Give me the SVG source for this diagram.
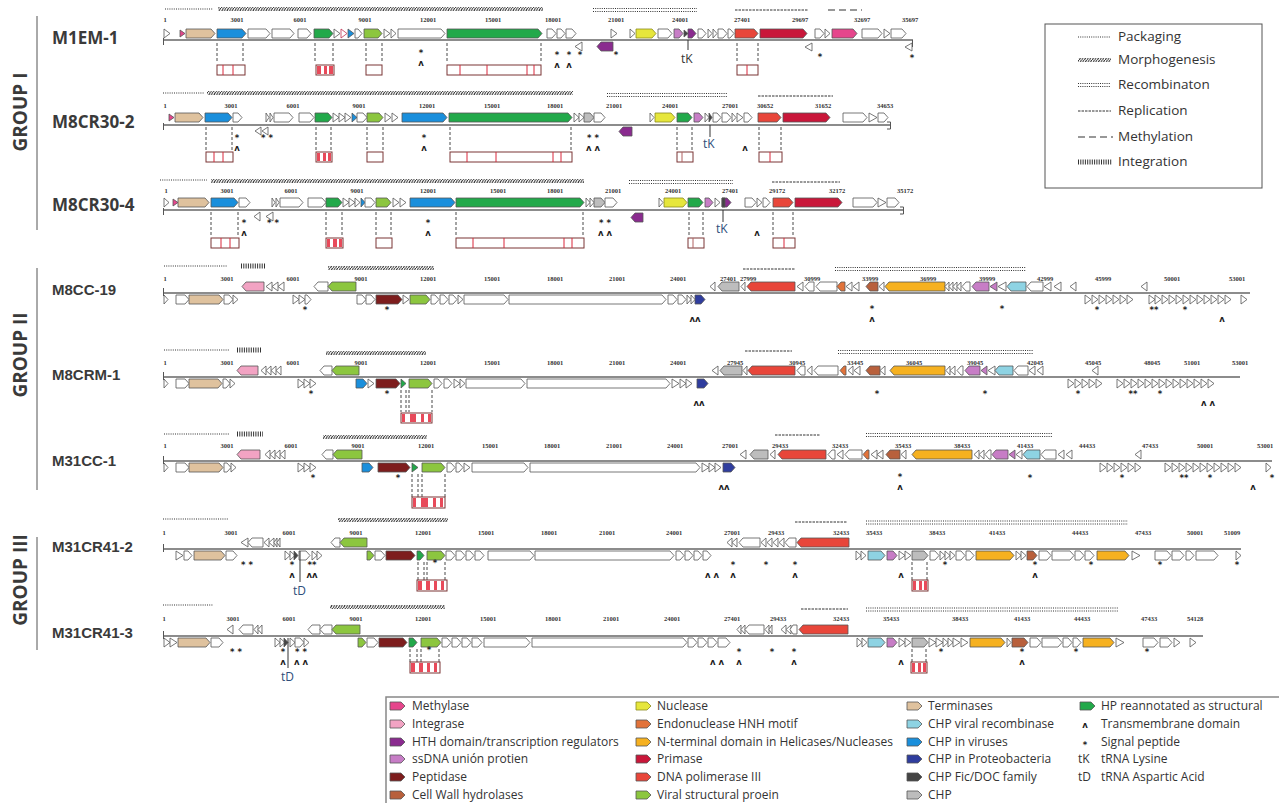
<svg xmlns="http://www.w3.org/2000/svg" width="1279" height="803" viewBox="0 0 1279 803">
<defs>
<pattern id="hatch" width="2.6" height="4" patternUnits="userSpaceOnUse"><path d="M0.3,4 L2.3,0" stroke="#222" stroke-width="1"/></pattern>
<style>
text{font-family:"Open Sans","Liberation Sans",sans-serif}
.lab{font-weight:bold;font-size:17px;fill:#3a3a3a}
.lab2{font-family:"Liberation Sans",Arial,sans-serif;font-weight:bold;font-size:15px;fill:#3a3a3a}
.grp{font-weight:bold;font-size:19px;fill:#3a3a3a;text-anchor:middle}
.c{font-family:"Liberation Serif",serif;font-weight:bold;font-size:6.5px;fill:#333;text-anchor:middle}
.m{font-family:"DejaVu Sans",sans-serif;font-weight:bold;font-size:8.5px;fill:#222;text-anchor:middle}
.t{font-size:12px;fill:#2e4d7a}
.lg{font-size:12px;fill:#333}
.lt{font-size:13.5px;fill:#333}
polygon{stroke:#555;stroke-width:0.8;fill:#fff}
.bb{stroke:#8c8c8c;stroke-width:2;fill:none}
.tk{stroke:#555;stroke-width:1;fill:none}
.pk{stroke:#333;stroke-width:1.1;stroke-dasharray:1 1.2;fill:none}
.rp{stroke:#333;stroke-width:1;stroke-dasharray:2.5 1;fill:none}
.me{stroke:#333;stroke-width:1.2;stroke-dasharray:7 4;fill:none}
.ig{stroke:#333;stroke-width:5;stroke-dasharray:1 1.3;fill:none}
.dl{stroke:#333;stroke-width:0.9;stroke-dasharray:3 2;fill:none}
.bx{fill:#fff;stroke:#7a3535;stroke-width:1}
.rl{stroke:#d9263a;stroke-width:1}
.rf{fill:#e84a5a;stroke:none}
.met{fill:#e6468c}.int{fill:#f2a3c3}.hth{fill:#8a2b8f}.ssd{fill:#c77dc6}.pep{fill:#7d1d1d}.cwh{fill:#b8603c}
.yel{fill:#e6e63c;stroke:#8a8a20}.hnh{fill:#e2733a}.hel{fill:#f6b120}.pri{fill:#c9173a}.pol{fill:#e8463a}.vsg{fill:#8cc63f}
.tan{fill:#dfc29e}.rec{fill:#8ed3e3}.blu{fill:#1a8fdc}.prot{fill:#2f3d9e}.fic{fill:#444}.chp{fill:#bdbdbd}.hpg{fill:#22a94a}
</style>
</defs>
<rect width="1279" height="803" fill="#fff"/>

<g id="group-labels">
<text class="grp" transform="translate(27,112) rotate(-90)">GROUP I</text>
<text class="grp" transform="translate(27,355) rotate(-90)">GROUP II</text>
<text class="grp" transform="translate(27,580) rotate(-90)">GROUP III</text>
<path d="M37,16 V230 M37,268 V490 M37,537 V650" stroke="#555" stroke-width="1"/>
</g>

<!-- ROW 1 -->
<g id="row-M1EM-1">
<text class="lab" x="52" y="44">M1EM-1</text>
<path class="pk" d="M165,9 H213"/><rect x="218" y="7" width="325" height="4" fill="url(#hatch)"/>
<path class="pk" d="M593,8.5 H697 M593,11.5 H697"/><path class="rp" d="M735,10 H808"/><path class="me" d="M828,10 H862"/>
<text class="c" x="165" y="22">1</text><text class="c" x="237" y="22">3001</text><text class="c" x="300" y="22">6001</text><text class="c" x="365" y="22">9001</text><text class="c" x="428" y="22">12001</text><text class="c" x="493" y="22">15001</text><text class="c" x="553" y="22">18001</text><text class="c" x="616" y="22">21001</text><text class="c" x="680" y="22">24001</text><text class="c" x="742" y="22">27401</text><text class="c" x="800" y="22">29697</text><text class="c" x="862" y="22">32697</text><text class="c" x="910" y="22">35697</text>
<path class="bb" d="M163,40 H913"/><path class="tk" d="M163.5,38 V45 M912.5,40 V47"/>
<polygon points="164,29 170,33.5 164,38"/>
<polygon class="met" points="180,30 185,33.5 180,37"/>
<polygon class="tan" points="186,29 211,29 215,33.5 211,38 186,38"/>
<polygon class="blu" points="217,29 242,29 246,33.5 242,38 217,38"/>
<polygon points="248,29 266,29 270,33.5 266,38 248,38"/>
<polygon points="272,29 290,29 294,33.5 290,38 272,38"/>
<polygon points="298,29 307,29 311,33.5 307,38 298,38"/>
<polygon class="hpg" points="314,29 329,29 333,33.5 329,38 314,38"/>
<polygon points="334,29 340,33.5 334,38"/>
<polygon points="341,29 347,33.5 341,38" style="stroke:#c03050"/>
<polygon class="blu" points="348,29 354,33.5 348,38"/>
<polygon points="355,29 358,29 362,33.5 358,38 355,38"/>
<polygon class="vsg" points="364,29 378,29 382,33.5 378,38 364,38"/>
<polygon points="384,29 390,33.5 384,38"/>
<polygon points="391,29 396,33.5 391,38"/>
<polygon points="398,29 441,29 445,33.5 441,38 398,38"/>
<polygon class="hpg" points="447,29 538,29 542,33.5 538,38 447,38"/>
<polygon points="547,29 552,29 556,33.5 552,38 547,38"/>
<polygon points="557,29 561,29 565,33.5 561,38 557,38"/>
<polygon points="566,29 572,29 576,33.5 572,38 566,38"/>
<polygon points="611,29 617,33.5 611,38"/>
<polygon points="630,29 635,33.5 630,38"/>
<polygon class="yel" points="636,29 652,29 656,33.5 652,38 636,38"/>
<polygon points="658,29 668,29 672,33.5 668,38 658,38"/>
<polygon class="ssd" points="674,29 679,29 683,33.5 679,38 674,38"/>
<polygon class="fic" points="684,30 688,33.5 684,37"/>
<polygon class="hth" points="688,29 692,29 696,33.5 692,38 688,38"/>
<polygon points="698,29 702,29 706,33.5 702,38 698,38"/>
<polygon points="708,29 712,33.5 708,38"/>
<polygon points="713,29 717,33.5 713,38"/>
<polygon points="718,29 723,29 727,33.5 723,38 718,38"/>
<polygon points="728,29 730,29 734,33.5 730,38 728,38"/>
<polygon class="pol" points="735,29 754,29 758,33.5 754,38 735,38"/>
<polygon class="pri" points="760,29 803,29 807,33.5 803,38 760,38"/>
<polygon points="815,29 820,29 824,33.5 820,38 815,38"/>
<polygon points="825,29 830,33.5 825,38"/>
<polygon class="met" points="832,29 853,29 857,33.5 853,38 832,38"/>
<polygon points="862,29 878,29 882,33.5 878,38 862,38"/>
<polygon points="884,29 890,33.5 884,38"/>
<polygon points="891,29 902,29 906,33.5 902,38 891,38"/>
<polygon points="582,42 575,46.5 582,51"/>
<polygon class="hth" points="613,42 601,42 597,46.5 601,51 613,51"/>
<polygon points="812,43 805,47 812,51"/>
<polygon points="912,43 905,47 912,51"/>
<text class="m" x="421" y="56">*</text><text class="m" x="421" y="66">ʌ</text>
<text class="m" x="557" y="58">*</text><text class="m" x="557" y="68">ʌ</text>
<text class="m" x="569" y="58">*</text><text class="m" x="569" y="68">ʌ</text>
<text class="m" x="580" y="58">*</text><text class="m" x="616" y="58">*</text><text class="m" x="820" y="60">*</text><text class="m" x="912" y="61">*</text>
<path d="M688,40 V50" stroke="#333" stroke-width="1"/><text class="t" x="681" y="63" style="fill:#333">tK</text>
</g>

<!-- ROW 2 -->
<g id="row-M8CR30-2">
<text class="lab" x="52" y="128">M8CR30-2</text>
<path class="pk" d="M163,93 H204"/><rect x="207" y="91" width="366" height="4" fill="url(#hatch)"/>
<path class="pk" d="M607,93.5 H727 M607,96.5 H727"/><path class="rp" d="M758,96 H833"/>
<text class="c" x="165" y="108">1</text><text class="c" x="231" y="108">3001</text><text class="c" x="293" y="108">6001</text><text class="c" x="359" y="108">9001</text><text class="c" x="427" y="108">12001</text><text class="c" x="492" y="108">15001</text><text class="c" x="555" y="108">18001</text><text class="c" x="614" y="108">21001</text><text class="c" x="670" y="108">24001</text><text class="c" x="730" y="108">27001</text><text class="c" x="765" y="108">30652</text><text class="c" x="823" y="108">31652</text><text class="c" x="885" y="108">34653</text>
<path class="bb" d="M163,125 H890"/><path class="tk" d="M163.5,123 V130 M887,122 H890.5 V129 H887"/>
<polygon class="met" points="169,114 174,117.5 169,121"/>
<polygon class="tan" points="175,113 199,113 203,117.5 199,122 175,122"/>
<polygon class="blu" points="205,113 228,113 232,117.5 228,122 205,122"/>
<polygon points="233,113 238,113 242,117.5 238,122 233,122"/>
<polygon points="266,113 269,117.5 266,122"/>
<polygon points="270,113 273,117.5 270,122"/>
<polygon points="274,113 289,113 293,117.5 289,122 274,122"/>
<polygon points="299,113 310,113 314,117.5 310,122 299,122"/>
<polygon class="hpg" points="315,113 328,113 332,117.5 328,122 315,122"/>
<polygon points="333,113 339,117.5 333,122"/>
<polygon points="339,113 345,117.5 339,122"/>
<polygon points="345,113 351,117.5 345,122"/>
<polygon class="blu" points="352,113 357,117.5 352,122"/>
<polygon points="357,113 363,113 367,117.5 363,122 357,122"/>
<polygon class="vsg" points="367,113 379,113 383,117.5 379,122 367,122"/>
<polygon points="385,113 391,117.5 385,122"/>
<polygon points="392,113 398,117.5 392,122"/>
<polygon class="blu" points="402,113 443,113 447,117.5 443,122 402,122"/>
<polygon class="hpg" points="449,113 568,113 572,117.5 568,122 449,122"/>
<polygon points="574,113 579,117.5 574,122"/>
<polygon points="579,113 584,117.5 579,122"/>
<polygon class="chp" points="584,113 590,113 594,117.5 590,122 584,122"/>
<polygon points="594,113 601,113 605,117.5 601,122 594,122"/>
<polygon points="650,113 654,117.5 650,122"/>
<polygon class="yel" points="655,113 671,113 675,117.5 671,122 655,122"/>
<polygon class="hpg" points="677,113 688,113 692,117.5 688,122 677,122"/>
<polygon class="ssd" points="694,113 699,113 703,117.5 699,122 694,122"/>
<polygon points="705,113 709,117.5 705,122"/>
<polygon class="fic" points="709,113 712,117.5 709,122"/>
<polygon points="713,113 717,113 721,117.5 717,122 713,122"/>
<polygon points="722,113 727,113 731,117.5 727,122 722,122"/>
<polygon points="732,113 736,117.5 732,122"/>
<polygon points="737,113 743,117.5 737,122"/>
<polygon points="744,113 748,113 752,117.5 748,122 744,122"/>
<polygon class="pol" points="758,113 777,113 781,117.5 777,122 758,122"/>
<polygon class="pri" points="783,113 826,113 830,117.5 826,122 783,122"/>
<polygon points="843,113 863,113 867,117.5 863,122 843,122"/>
<polygon points="869,113 877,117.5 869,122"/>
<polygon points="878,113 884,113 888,117.5 884,122 878,122"/>
<polygon points="261,127 255,131 261,135"/>
<polygon points="268,127 262,131 268,135"/>
<polygon class="hth" points="632,127 623,127 619,131.5 623,136 632,136"/>
<text class="m" x="237" y="141">*</text><text class="m" x="237" y="151">ʌ</text>
<text class="m" x="267" y="141">* *</text>
<text class="m" x="424" y="141">*</text><text class="m" x="424" y="151">ʌ</text>
<text class="m" x="593" y="141">* *</text><text class="m" x="593" y="151">ʌ ʌ</text>
<text class="m" x="745" y="151">ʌ</text>
<path d="M710,125 V137" stroke="#333" stroke-width="1"/><text class="t" x="703" y="148">tK</text>
</g>

<!-- ROW 3 -->
<g id="row-M8CR30-4">
<text class="lab" x="52" y="211">M8CR30-4</text>
<path class="pk" d="M160,180 H207"/><rect x="211" y="179" width="373" height="4" fill="url(#hatch)"/>
<path class="pk" d="M629,180.5 H733 M629,183.5 H733"/><path class="rp" d="M772,182 H840"/>
<text class="c" x="166" y="193">1</text><text class="c" x="227" y="193">3001</text><text class="c" x="291" y="193">6001</text><text class="c" x="357" y="193">9001</text><text class="c" x="428" y="193">12001</text><text class="c" x="498" y="193">15001</text><text class="c" x="555" y="193">18001</text><text class="c" x="613" y="193">21001</text><text class="c" x="673" y="193">24001</text><text class="c" x="730" y="193">27401</text><text class="c" x="777" y="193">29172</text><text class="c" x="837" y="193">32172</text><text class="c" x="905" y="193">35172</text>
<path class="bb" d="M163,210 H903"/><path class="tk" d="M163.5,208 V215 M900,207 H903.5 V214 H900"/>
<polygon points="164,198 169,202.5 164,207"/>
<polygon class="met" points="173,199 178,202.5 173,206"/>
<polygon class="tan" points="178,198 205,198 209,202.5 205,207 178,207"/>
<polygon class="blu" points="211,198 234,198 238,202.5 234,207 211,207"/>
<polygon points="239,198 246,198 250,202.5 246,207 239,207"/>
<polygon points="272,198 275,202.5 272,207"/>
<polygon points="276,198 279,202.5 276,207"/>
<polygon points="280,198 299,198 303,202.5 299,207 280,207"/>
<polygon points="308,198 322,198 326,202.5 322,207 308,207"/>
<polygon class="hpg" points="326,198 338,198 342,202.5 338,207 326,207"/>
<polygon points="343,198 349,202.5 343,207"/>
<polygon points="349,198 355,202.5 349,207"/>
<polygon points="355,198 360,202.5 355,207"/>
<polygon class="blu" points="361,198 365,202.5 361,207"/>
<polygon points="365,198 371,198 375,202.5 371,207 365,207"/>
<polygon class="vsg" points="376,198 387,198 391,202.5 387,207 376,207"/>
<polygon points="393,198 399,202.5 393,207"/>
<polygon points="400,198 406,202.5 400,207"/>
<polygon class="blu" points="410,198 451,198 455,202.5 451,207 410,207"/>
<polygon class="hpg" points="456,198 580,198 584,202.5 580,207 456,207"/>
<polygon points="586,198 590,202.5 586,207"/>
<polygon points="590,198 594,202.5 590,207"/>
<polygon class="chp" points="594,198 601,198 605,202.5 601,207 594,207"/>
<polygon points="605,198 613,198 617,202.5 613,207 605,207"/>
<polygon points="659,198 663,202.5 659,207"/>
<polygon class="yel" points="664,198 683,198 687,202.5 683,207 664,207"/>
<polygon class="hpg" points="688,198 699,198 703,202.5 699,207 688,207"/>
<polygon class="ssd" points="705,198 709,198 713,202.5 709,207 705,207"/>
<polygon points="715,198 720,202.5 715,207"/>
<polygon class="hth" points="722,198 727,198 731,202.5 727,207 722,207"/>
<polygon class="fic" points="722,198 725,198 725,207 722,207"/>
<polygon points="745,198 752,198 756,202.5 752,207 745,207"/>
<polygon points="757,198 762,202.5 757,207"/>
<polygon points="763,198 766,198 770,202.5 766,207 763,207"/>
<polygon class="pol" points="773,198 789,198 793,202.5 789,207 773,207"/>
<polygon class="pri" points="795,198 838,198 842,202.5 838,207 795,207"/>
<polygon points="853,198 873,198 877,202.5 873,207 853,207"/>
<polygon points="878,198 886,202.5 878,207"/>
<polygon points="887,198 895,198 899,202.5 895,207 887,207"/>
<polygon points="260,212 254,216.5 260,221"/>
<polygon points="273,212 266,216.5 273,221"/>
<polygon class="hth" points="643,213 635,213 631,217.5 635,222 643,222"/>
<text class="m" x="244" y="226">*</text><text class="m" x="244" y="236">ʌ</text>
<text class="m" x="273" y="226">* *</text>
<text class="m" x="428" y="226">*</text><text class="m" x="428" y="236">ʌ</text>
<text class="m" x="605" y="226">* *</text><text class="m" x="605" y="236">ʌ ʌ</text>
<text class="m" x="757" y="236">ʌ</text>
<path d="M723,210 V222" stroke="#333" stroke-width="1"/><text class="t" x="716" y="233">tK</text>
</g>

<!-- ROW 4 -->
<g id="row-M8CC-19">
<text class="lab2" x="52" y="295">M8CC-19</text>
<path class="pk" d="M164,266 H227"/><path class="ig" d="M241,266 H266"/><rect x="328" y="266" width="106" height="4" fill="url(#hatch)"/>
<path class="rp" d="M743,269 H795"/><path class="pk" d="M835,267.5 H1026 M835,270.5 H1026"/>
<text class="c" x="165" y="281">1</text><text class="c" x="227" y="281">3001</text><text class="c" x="293" y="281">6001</text><text class="c" x="361" y="281">9001</text><text class="c" x="428" y="281">12001</text><text class="c" x="492" y="281">15001</text><text class="c" x="555" y="281">18001</text><text class="c" x="617" y="281">21001</text><text class="c" x="678" y="281">24001</text><text class="c" x="728" y="281">27401</text><text class="c" x="748" y="281">27999</text><text class="c" x="812" y="281">30999</text><text class="c" x="870" y="281">33999</text><text class="c" x="928" y="281">36999</text><text class="c" x="987" y="281">39999</text><text class="c" x="1045" y="281">42999</text><text class="c" x="1103" y="281">45999</text><text class="c" x="1172" y="281">50001</text><text class="c" x="1237" y="281">53001</text>
<path class="bb" d="M163,293 H1250"/><path class="tk" d="M163.5,288 V296"/>
<polygon class="int" points="264,282 246,282 242,286.5 246,291 264,291"/>
<polygon points="272,282 266,286.5 272,291"/>
<polygon points="278,282 272,286.5 278,291"/>
<polygon points="284,282 278,286.5 284,291"/>
<polygon points="328,282 318,282 314,286.5 318,291 328,291"/>
<polygon class="vsg" points="356,282 332,282 328,286.5 332,291 356,291"/>
<polygon points="715,282 710,286.5 715,291"/>
<polygon class="chp" points="739,282 722,282 718,286.5 722,291 739,291"/>
<polygon points="745,282 741,286.5 745,291"/>
<polygon class="pol" points="795,282 751,282 747,286.5 751,291 795,291"/>
<polygon points="803,282 797,286.5 803,291"/>
<polygon points="814,282 809,282 805,286.5 809,291 814,291"/>
<polygon points="837,282 820,282 816,286.5 820,291 837,291"/>
<polygon class="hnh" points="845,282 841,282 837,286.5 841,291 845,291"/>
<polygon points="852,282 846,286.5 852,291"/>
<polygon points="859,282 853,286.5 859,291"/>
<polygon class="cwh" points="878,282 870,282 866,286.5 870,291 878,291"/>
<polygon points="884,282 879,286.5 884,291"/>
<polygon class="hel" points="945,282 889,282 885,286.5 889,291 945,291"/>
<polygon points="949,282 945,286.5 949,291"/>
<polygon points="953,282 949,286.5 953,291"/>
<polygon points="957,282 953,286.5 957,291"/>
<polygon points="961,282 957,286.5 961,291"/>
<polygon points="970,282 966,282 962,286.5 966,291 970,291"/>
<polygon class="ssd" points="989,282 976,282 972,286.5 976,291 989,291"/>
<polygon class="ssd" points="997,282 990,286.5 997,291"/>
<polygon points="1006,282 998,286.5 1006,291"/>
<polygon class="rec" points="1026,282 1011,282 1007,286.5 1011,291 1026,291"/>
<polygon points="1043,282 1031,282 1027,286.5 1031,291 1043,291"/>
<polygon points="1051,282 1044,286.5 1051,291"/>
<polygon points="1061,282 1054,286.5 1061,291"/>
<polygon points="1076,282 1070,286.5 1076,291"/>
<polygon points="1147,282 1141,286.5 1147,291"/>
<polygon points="164,295 168,299.5 164,304"/>
<polygon points="176,295 185,295 189,299.5 185,304 176,304"/>
<polygon class="tan" points="189,295 219,295 223,299.5 219,304 189,304"/>
<polygon points="224,295 229,295 233,299.5 229,304 224,304"/>
<polygon points="233,295 238,299.5 233,304"/>
<polygon points="293,295 299,299.5 293,304"/>
<polygon points="299,295 305,299.5 299,304"/>
<polygon points="305,295 307,295 311,299.5 307,304 305,304"/>
<polygon points="357,295 362,295 366,299.5 362,304 357,304"/>
<polygon points="366,295 371,295 375,299.5 371,304 366,304"/>
<polygon class="pep" points="376,295 398,295 402,299.5 398,304 376,304"/>
<polygon points="403,295 409,299.5 403,304"/>
<polygon class="vsg" points="410,295 426,295 430,299.5 426,304 410,304"/>
<polygon points="431,295 435,295 439,299.5 435,304 431,304"/>
<polygon points="440,295 444,295 448,299.5 444,304 440,304"/>
<polygon points="449,295 453,295 457,299.5 453,304 449,304"/>
<polygon points="458,295 463,299.5 458,304"/>
<polygon points="464,295 504,295 508,299.5 504,304 464,304"/>
<polygon points="509,295 662,295 666,299.5 662,304 509,304"/>
<polygon points="668,295 673,295 677,299.5 673,304 668,304"/>
<polygon points="678,295 682,295 686,299.5 682,304 678,304"/>
<polygon points="687,295 691,299.5 687,304"/>
<polygon points="691,295 695,299.5 691,304"/>
<polygon class="prot" points="695,295 701,295 705,299.5 701,304 695,304"/>
<polygon points="1085,295 1091,299.5 1085,304"/><polygon points="1092,295 1098,299.5 1092,304"/><polygon points="1099,295 1105,299.5 1099,304"/><polygon points="1106,295 1112,299.5 1106,304"/><polygon points="1113,295 1119,299.5 1113,304"/><polygon points="1120,295 1126,299.5 1120,304"/><polygon points="1127,295 1133,299.5 1127,304"/>
<polygon points="1149,295 1155,299.5 1149,304"/><polygon points="1155,295 1161,299.5 1155,304"/><polygon points="1162,295 1168,299.5 1162,304"/><polygon points="1169,295 1175,299.5 1169,304"/><polygon points="1176,295 1182,299.5 1176,304"/><polygon points="1183,295 1189,299.5 1183,304"/><polygon points="1190,295 1196,299.5 1190,304"/><polygon points="1197,295 1203,299.5 1197,304"/><polygon points="1204,295 1210,299.5 1204,304"/><polygon points="1211,295 1217,299.5 1211,304"/><polygon points="1218,295 1224,299.5 1218,304"/><polygon points="1225,295 1231,299.5 1225,304"/>
<polygon points="1241,295 1247,299.5 1241,304"/>
<text class="m" x="305" y="313">*</text><text class="m" x="387" y="313">*</text>
<text class="m" x="695" y="322">ʌʌ</text>
<text class="m" x="872" y="312">*</text><text class="m" x="872" y="322">ʌ</text>
<text class="m" x="1002" y="312">*</text><text class="m" x="1097" y="313">*</text>
<text class="m" x="1154" y="313">**</text><text class="m" x="1185" y="313">*</text>
<text class="m" x="1222" y="322">ʌ</text>
</g>

<!-- ROW 5 -->
<g id="row-M8CRM-1">
<text class="lab2" x="52" y="380">M8CRM-1</text>
<path class="pk" d="M164,350 H230"/><path class="ig" d="M237,350 H262"/><rect x="326" y="351" width="100" height="4" fill="url(#hatch)"/>
<path class="rp" d="M745,351 H792"/><path class="pk" d="M838,350.5 H1033 M838,353.5 H1033"/>
<text class="c" x="165" y="365">1</text><text class="c" x="227" y="365">3001</text><text class="c" x="293" y="365">6001</text><text class="c" x="361" y="365">9001</text><text class="c" x="428" y="365">12001</text><text class="c" x="492" y="365">15001</text><text class="c" x="555" y="365">18001</text><text class="c" x="617" y="365">21001</text><text class="c" x="678" y="365">24001</text><text class="c" x="735" y="365">27945</text><text class="c" x="797" y="365">30945</text><text class="c" x="855" y="365">33445</text><text class="c" x="914" y="365">36045</text><text class="c" x="975" y="365">39045</text><text class="c" x="1035" y="365">42045</text><text class="c" x="1093" y="365">45045</text><text class="c" x="1152" y="365">48045</text><text class="c" x="1192" y="365">51001</text><text class="c" x="1240" y="365">53001</text>
<path class="bb" d="M163,377 H1240"/><path class="tk" d="M163.5,372 V380"/>
<polygon class="int" points="258,366 241,366 237,370.5 241,375 258,375"/>
<polygon points="266,366 261,370.5 266,375"/><polygon points="271,366 266,370.5 271,375"/><polygon points="276,366 271,370.5 276,375"/><polygon points="281,366 276,370.5 281,375"/>
<polygon points="332,366 324,366 320,370.5 324,375 332,375"/>
<polygon class="vsg" points="359,366 336,366 332,370.5 336,375 359,375"/>
<polygon points="718,366 712,370.5 718,375"/>
<polygon class="chp" points="742,366 724,366 720,370.5 724,375 742,375"/>
<polygon points="747,366 743,370.5 747,375"/>
<polygon class="pol" points="795,366 752,366 748,370.5 752,375 795,375"/>
<polygon points="805,366 801,366 797,370.5 801,375 805,375"/>
<polygon points="812,366 807,370.5 812,375"/>
<polygon points="838,366 818,366 814,370.5 818,375 838,375"/>
<polygon class="hnh" points="846,366 844,366 840,370.5 844,375 846,375"/>
<polygon points="853,366 848,370.5 853,375"/><polygon points="860,366 854,370.5 860,375"/>
<polygon class="cwh" points="880,366 870,366 866,370.5 870,375 880,375"/>
<polygon points="885,366 880,370.5 885,375"/>
<polygon class="hel" points="945,366 894,366 890,370.5 894,375 945,375"/>
<polygon points="950,366 946,370.5 950,375"/><polygon points="955,366 950,370.5 955,375"/>
<polygon points="963,366 961,366 957,370.5 961,375 963,375"/>
<polygon class="ssd" points="980,366 969,366 965,370.5 969,375 980,375"/>
<polygon class="ssd" points="987,366 981,370.5 987,375"/>
<polygon points="995,366 988,370.5 995,375"/>
<polygon class="rec" points="1013,366 999,366 995,370.5 999,375 1013,375"/>
<polygon points="1028,366 1018,366 1014,370.5 1018,375 1028,375"/>
<polygon points="1035,366 1029,370.5 1035,375"/><polygon points="1043,366 1037,370.5 1043,375"/>
<polygon points="1098,366 1092,370.5 1098,375"/>
<polygon points="164,379 168,383.5 164,388"/>
<polygon points="176,379 185,379 189,383.5 185,388 176,388"/>
<polygon class="tan" points="189,379 218,379 222,383.5 218,388 189,388"/>
<polygon points="223,379 226,379 230,383.5 226,388 223,388"/>
<polygon points="230,379 235,383.5 230,388"/>
<polygon points="298,379 304,383.5 298,388"/><polygon points="304,379 310,383.5 304,388"/><polygon points="310,379 316,383.5 310,388"/>
<polygon class="blu" points="356,379 363,379 367,383.5 363,388 356,388"/>
<polygon points="368,379 374,383.5 368,388"/>
<polygon class="pep" points="376,379 396,379 400,383.5 396,388 376,388"/>
<polygon class="hpg" points="401,379 406,383.5 401,388"/>
<polygon class="vsg" points="409,379 428,379 432,383.5 428,388 409,388"/>
<polygon points="434,379 438,379 442,383.5 438,388 434,388"/>
<polygon points="444,379 448,379 452,383.5 448,388 444,388"/>
<polygon points="454,379 460,383.5 454,388"/><polygon points="460,379 465,383.5 460,388"/>
<polygon points="466,379 521,379 525,383.5 521,388 466,388"/>
<polygon points="527,379 666,379 670,383.5 666,388 527,388"/>
<polygon points="672,379 679,383.5 672,388"/><polygon points="680,379 686,383.5 680,388"/><polygon points="686,379 692,383.5 686,388"/>
<polygon class="prot" points="697,379 704,379 708,383.5 704,388 697,388"/>
<polygon points="1068,379 1074,383.5 1068,388"/><polygon points="1075,379 1081,383.5 1075,388"/><polygon points="1082,379 1088,383.5 1082,388"/><polygon points="1089,379 1095,383.5 1089,388"/><polygon points="1096,379 1102,383.5 1096,388"/>
<polygon points="1117,379 1123,383.5 1117,388"/><polygon points="1124,379 1130,383.5 1124,388"/><polygon points="1131,379 1137,383.5 1131,388"/><polygon points="1138,379 1144,383.5 1138,388"/><polygon points="1145,379 1151,383.5 1145,388"/><polygon points="1152,379 1158,383.5 1152,388"/><polygon points="1159,379 1165,383.5 1159,388"/><polygon points="1166,379 1172,383.5 1166,388"/><polygon points="1173,379 1179,383.5 1173,388"/><polygon points="1180,379 1186,383.5 1180,388"/><polygon points="1187,379 1193,383.5 1187,388"/><polygon points="1194,379 1200,383.5 1194,388"/><polygon points="1201,379 1207,383.5 1201,388"/><polygon points="1208,379 1214,383.5 1208,388"/>
<text class="m" x="311" y="397">*</text><text class="m" x="387" y="397">*</text>
<text class="m" x="699" y="406">ʌʌ</text>
<text class="m" x="877" y="397">*</text><text class="m" x="985" y="397">*</text>
<text class="m" x="1078" y="397">*</text><text class="m" x="1133" y="397">**</text><text class="m" x="1160" y="397">*</text>
<text class="m" x="1208" y="406">ʌ  ʌ</text>
</g>

<!-- ROW 6 -->
<g id="row-M31CC-1">
<text class="lab2" x="52" y="466">M31CC-1</text>
<path class="pk" d="M164,434 H230"/><path class="ig" d="M237,434 H263"/><rect x="323" y="435" width="104" height="4" fill="url(#hatch)"/>
<path class="rp" d="M775,435 H820"/><path class="pk" d="M866,433.5 H1052 M866,436.5 H1052"/>
<text class="c" x="165" y="448">1</text><text class="c" x="227" y="448">3001</text><text class="c" x="291" y="448">6001</text><text class="c" x="358" y="448">9001</text><text class="c" x="426" y="448">12001</text><text class="c" x="490" y="448">15001</text><text class="c" x="552" y="448">18001</text><text class="c" x="614" y="448">21001</text><text class="c" x="675" y="448">24001</text><text class="c" x="730" y="448">27001</text><text class="c" x="780" y="448">29433</text><text class="c" x="840" y="448">32433</text><text class="c" x="903" y="448">35433</text><text class="c" x="962" y="448">38433</text><text class="c" x="1025" y="448">41433</text><text class="c" x="1087" y="448">44433</text><text class="c" x="1150" y="448">47433</text><text class="c" x="1205" y="448">50001</text><text class="c" x="1265" y="448">53001</text>
<path class="bb" d="M163,461 H1272"/><path class="tk" d="M163.5,456 V464"/>
<polygon class="int" points="260,450 241,450 237,454.5 241,459 260,459"/>
<polygon points="270,450 265,454.5 270,459"/><polygon points="275,450 270,454.5 275,459"/><polygon points="280,450 275,454.5 280,459"/><polygon points="285,450 280,454.5 285,459"/>
<polygon points="333,450 326,450 322,454.5 326,459 333,459"/>
<polygon class="vsg" points="362,450 337,450 333,454.5 337,459 362,459"/>
<polygon points="746,450 740,454.5 746,459"/>
<polygon class="chp" points="768,450 754,450 750,454.5 754,459 768,459"/>
<polygon points="775,450 770,454.5 775,459"/>
<polygon class="pol" points="826,450 782,450 778,454.5 782,459 826,459"/>
<polygon points="835,450 832,450 828,454.5 832,459 835,459"/>
<polygon points="843,450 837,454.5 843,459"/>
<polygon points="862,450 849,450 845,454.5 849,459 862,459"/>
<polygon class="hnh" points="869,450 867,450 863,454.5 867,459 869,459"/>
<polygon points="877,450 871,454.5 877,459"/><polygon points="883,450 877,454.5 883,459"/>
<polygon class="cwh" points="900,450 890,450 886,454.5 890,459 900,459"/>
<polygon points="906,450 901,454.5 906,459"/>
<polygon class="hel" points="972,450 916,450 912,454.5 916,459 972,459"/>
<polygon points="979,450 974,454.5 979,459"/><polygon points="984,450 979,454.5 984,459"/>
<polygon points="991,450 989,450 985,454.5 989,459 991,459"/>
<polygon class="ssd" points="1008,450 996,450 992,454.5 996,459 1008,459"/>
<polygon class="ssd" points="1015,450 1009,454.5 1015,459"/>
<polygon points="1022,450 1016,454.5 1022,459"/>
<polygon class="rec" points="1040,450 1027,450 1023,454.5 1027,459 1040,459"/>
<polygon points="1056,450 1045,450 1041,454.5 1045,459 1056,459"/>
<polygon points="1064,450 1058,454.5 1064,459"/><polygon points="1072,450 1066,454.5 1072,459"/>
<polygon points="1141,450 1135,454.5 1141,459"/>
<polygon points="164,463 168,467.5 164,472"/>
<polygon points="176,463 185,463 189,467.5 185,472 176,472"/>
<polygon class="tan" points="189,463 219,463 223,467.5 219,472 189,472"/>
<polygon points="224,463 227,463 231,467.5 227,472 224,472"/>
<polygon points="231,463 236,467.5 231,472"/>
<polygon points="298,463 304,467.5 298,472"/><polygon points="304,463 310,467.5 304,472"/><polygon points="310,463 316,467.5 310,472"/>
<polygon class="blu" points="362,463 369,463 373,467.5 369,472 362,472"/>
<polygon class="pep" points="378,463 406,463 410,467.5 406,472 378,472"/>
<polygon class="hpg" points="412,463 418,467.5 412,472"/>
<polygon class="vsg" points="422,463 441,463 445,467.5 441,472 422,472"/>
<polygon points="447,463 451,463 455,467.5 451,472 447,472"/>
<polygon points="456,463 459,463 463,467.5 459,472 456,472"/>
<polygon points="464,463 470,467.5 464,472"/>
<polygon points="472,463 524,463 528,467.5 524,472 472,472"/>
<polygon points="530,463 696,463 700,467.5 696,472 530,472"/>
<polygon points="702,463 709,467.5 702,472"/><polygon points="709,463 715,467.5 709,472"/><polygon points="715,463 721,467.5 715,472"/>
<polygon class="prot" points="723,463 731,463 735,467.5 731,472 723,472"/>
<polygon points="1100,463 1106,467.5 1100,472"/><polygon points="1107,463 1113,467.5 1107,472"/><polygon points="1114,463 1120,467.5 1114,472"/><polygon points="1121,463 1127,467.5 1121,472"/><polygon points="1128,463 1134,467.5 1128,472"/><polygon points="1135,463 1141,467.5 1135,472"/>
<polygon points="1165,463 1171,467.5 1165,472"/><polygon points="1172,463 1178,467.5 1172,472"/><polygon points="1179,463 1185,467.5 1179,472"/><polygon points="1186,463 1192,467.5 1186,472"/><polygon points="1193,463 1199,467.5 1193,472"/><polygon points="1200,463 1206,467.5 1200,472"/><polygon points="1207,463 1213,467.5 1207,472"/><polygon points="1214,463 1220,467.5 1214,472"/><polygon points="1221,463 1227,467.5 1221,472"/><polygon points="1228,463 1234,467.5 1228,472"/><polygon points="1235,463 1241,467.5 1235,472"/>
<polygon points="1266,463 1271,467.5 1266,472"/>
<text class="m" x="313" y="481">*</text><text class="m" x="398" y="481">*</text>
<text class="m" x="724" y="490">ʌʌ</text>
<text class="m" x="900" y="480">*</text><text class="m" x="900" y="490">ʌ</text>
<text class="m" x="1030" y="481">*</text><text class="m" x="1122" y="481">*</text>
<text class="m" x="1184" y="481">**</text><text class="m" x="1210" y="481">*</text>
<text class="m" x="1253" y="490">ʌ</text><text class="m" x="1272" y="481">*</text>
</g>

<!-- ROW 7 -->
<g id="row-M31CR41-2">
<text class="lab2" x="52" y="552">M31CR41-2</text>
<path class="pk" d="M163,519 H228"/><rect x="338" y="518" width="110" height="4" fill="url(#hatch)"/>
<path class="rp" d="M795,522 H847"/><path class="pk" d="M866,521 H1128 M866,524 H1128"/>
<text class="c" x="164" y="535">1</text><text class="c" x="231" y="535">3001</text><text class="c" x="289" y="535">6001</text><text class="c" x="356" y="535">9001</text><text class="c" x="423" y="535">12001</text><text class="c" x="486" y="535">15001</text><text class="c" x="549" y="535">18001</text><text class="c" x="607" y="535">21001</text><text class="c" x="674" y="535">24001</text><text class="c" x="732" y="535">27001</text><text class="c" x="776" y="535">29433</text><text class="c" x="841" y="535">32433</text><text class="c" x="874" y="535">35433</text><text class="c" x="937" y="535">38433</text><text class="c" x="997" y="535">41433</text><text class="c" x="1080" y="535">44433</text><text class="c" x="1143" y="535">47433</text><text class="c" x="1195" y="535">50001</text><text class="c" x="1232" y="535">51009</text>
<path class="bb" d="M163,549 H1241"/><path class="tk" d="M163.5,544 V552"/>
<polygon points="248,538 241,542.5 248,547"/>
<polygon points="263,538 252,538 248,542.5 252,547 263,547"/>
<polygon points="269,538 264,542.5 269,547"/><polygon points="274,538 269,542.5 274,547"/><polygon points="277,538 274,542.5 277,547"/><polygon points="280,538 277,542.5 280,547"/>
<polygon points="340,538 335,538 331,542.5 335,547 340,547"/>
<polygon class="vsg" points="367,538 344,538 340,542.5 344,547 367,547"/>
<polygon points="732,538 727,542.5 732,547"/><polygon points="737,538 732,542.5 737,547"/>
<polygon points="760,538 743,538 739,542.5 743,547 760,547"/>
<polygon points="766,538 761,542.5 766,547"/><polygon points="772,538 767,542.5 772,547"/><polygon points="778,538 773,542.5 778,547"/><polygon points="784,538 779,542.5 784,547"/>
<polygon points="796,538 789,538 785,542.5 789,547 796,547"/>
<polygon class="pol" points="849,538 801,538 797,542.5 801,547 849,547"/>
<polygon points="176,551 183,555.5 176,560"/>
<polygon points="184,551 188,551 192,555.5 188,560 184,560"/>
<polygon class="tan" points="194,551 221,551 225,555.5 221,560 194,560"/>
<polygon points="226,551 233,551 237,555.5 233,560 226,560"/>
<polygon points="285,551 290,555.5 285,560"/><polygon points="290,551 295,555.5 290,560"/>
<polygon class="fic" points="294,551 298,555.5 294,560"/>
<polygon points="299,551 306,551 310,555.5 306,560 299,560"/>
<polygon points="312,551 317,555.5 312,560"/><polygon points="317,551 322,555.5 317,560"/>
<polygon class="vsg" points="367,551 370,551 374,555.5 370,560 367,560"/>
<polygon points="375,551 381,551 385,555.5 381,560 375,560"/>
<polygon class="pep" points="386,551 411,551 415,555.5 411,560 386,560"/>
<polygon class="hpg" points="417,551 420,551 424,555.5 420,560 417,560"/>
<polygon class="vsg" points="427,551 441,551 445,555.5 441,560 427,560"/>
<polygon points="446,551 451,551 455,555.5 451,560 446,560"/>
<polygon points="456,551 461,551 465,555.5 461,560 456,560"/>
<polygon points="466,551 470,551 474,555.5 470,560 466,560"/>
<polygon points="475,551 480,551 484,555.5 480,560 475,560"/>
<polygon points="488,551 530,551 534,555.5 530,560 488,560"/>
<polygon points="535,551 670,551 674,555.5 670,560 535,560"/>
<polygon points="676,551 680,551 684,555.5 680,560 676,560"/>
<polygon points="685,551 689,551 693,555.5 689,560 685,560"/>
<polygon points="694,551 698,551 702,555.5 698,560 694,560"/>
<polygon points="703,551 707,551 711,555.5 707,560 703,560"/>
<polygon points="856,551 861,555.5 856,560"/><polygon points="861,551 866,555.5 861,560"/>
<polygon class="rec" points="868,551 881,551 885,555.5 881,560 868,560"/>
<polygon class="ssd" points="887,551 893,551 897,555.5 893,560 887,560"/>
<polygon points="899,551 905,555.5 899,560"/><polygon points="905,551 911,555.5 905,560"/>
<polygon class="chp" points="912,551 924,551 928,555.5 924,560 912,560"/>
<polygon points="930,551 935,551 939,555.5 935,560 930,560"/>
<polygon points="940,551 945,555.5 940,560"/><polygon points="945,551 950,555.5 945,560"/><polygon points="950,551 955,555.5 950,560"/>
<polygon points="956,551 961,551 965,555.5 961,560 956,560"/>
<polygon points="966,551 970,551 974,555.5 970,560 966,560"/>
<polygon class="hel" points="976,551 1010,551 1014,555.5 1010,560 976,560"/>
<polygon points="1016,551 1021,555.5 1016,560"/><polygon points="1021,551 1026,555.5 1021,560"/>
<polygon class="cwh" points="1027,551 1033,551 1037,555.5 1033,560 1027,560"/>
<polygon points="1039,551 1047,551 1051,555.5 1047,560 1039,560"/>
<polygon points="1052,551 1070,551 1074,555.5 1070,560 1052,560"/>
<polygon points="1075,551 1080,551 1084,555.5 1080,560 1075,560"/>
<polygon points="1085,551 1090,551 1094,555.5 1090,560 1085,560"/>
<polygon class="hel" points="1097,551 1125,551 1129,555.5 1125,560 1097,560"/>
<polygon points="1132,551 1140,555.5 1132,560"/>
<polygon points="1155,551 1167,551 1171,555.5 1167,560 1155,560"/>
<polygon points="1172,551 1180,551 1184,555.5 1180,560 1172,560"/>
<polygon points="1186,551 1190,551 1194,555.5 1190,560 1186,560"/>
<polygon points="1196,551 1214,551 1218,555.5 1214,560 1196,560"/>
<polygon points="1236,551 1241,555.5 1236,560"/>
<text class="m" x="247" y="568">* *</text>
<text class="m" x="292" y="568">*</text><text class="m" x="292" y="578">ʌ</text>
<path d="M300,551 V582" stroke="#333" stroke-width="1"/>
<text class="m" x="312" y="568">**</text><text class="m" x="312" y="578">ʌʌ</text>
<text class="t" x="293" y="595">tD</text>
<text class="m" x="435" y="566">*</text>
<text class="m" x="712" y="578">ʌ ʌ</text>
<text class="m" x="733" y="568">*</text><text class="m" x="733" y="578">ʌ</text>
<text class="m" x="766" y="568">*</text>
<text class="m" x="795" y="568">*</text><text class="m" x="795" y="578">ʌ</text>
<text class="m" x="901" y="578">ʌ</text><text class="m" x="945" y="568">*</text>
<text class="m" x="1035" y="568">*</text><text class="m" x="1035" y="578">ʌ</text>
<text class="m" x="1091" y="568">*</text><text class="m" x="1160" y="568">*</text><text class="m" x="1237" y="568">*</text>
</g>

<!-- ROW 8 -->
<g id="row-M31CR41-3">
<text class="lab2" x="52" y="638">M31CR41-3</text>
<path class="pk" d="M163,605 H213"/><rect x="330" y="605" width="115" height="4" fill="url(#hatch)"/>
<path class="rp" d="M801,609 H848"/><path class="pk" d="M866,608 H1118 M866,611 H1118"/>
<text class="c" x="164" y="621">1</text><text class="c" x="233" y="621">3001</text><text class="c" x="289" y="621">6001</text><text class="c" x="356" y="621">9001</text><text class="c" x="423" y="621">12001</text><text class="c" x="488" y="621">15001</text><text class="c" x="553" y="621">18001</text><text class="c" x="611" y="621">21001</text><text class="c" x="672" y="621">24001</text><text class="c" x="732" y="621">27401</text><text class="c" x="778" y="621">29433</text><text class="c" x="841" y="621">32433</text><text class="c" x="891" y="621">35433</text><text class="c" x="960" y="621">38433</text><text class="c" x="1022" y="621">41433</text><text class="c" x="1082" y="621">44433</text><text class="c" x="1149" y="621">47433</text><text class="c" x="1195" y="621">54128</text>
<path class="bb" d="M163,636 H1203"/><path class="tk" d="M163.5,631 V639"/>
<polygon points="233,625 227,629.5 233,634"/>
<polygon points="253,625 243,625 239,629.5 243,634 253,634"/>
<polygon points="258,625 254,629.5 258,634"/><polygon points="262,625 258,629.5 262,634"/>
<polygon points="320,625 312,625 308,629.5 312,634 320,634"/>
<polygon points="332,625 324,625 320,629.5 324,634 332,634"/>
<polygon class="vsg" points="360,625 336,625 332,629.5 336,634 360,634"/>
<polygon points="741,625 737,629.5 741,634"/><polygon points="745,625 741,629.5 745,634"/>
<polygon points="764,625 749,625 745,629.5 749,634 764,634"/>
<polygon points="769,625 765,629.5 769,634"/><polygon points="772,625 769,629.5 772,634"/>
<polygon points="786,625 781,629.5 786,634"/><polygon points="791,625 786,629.5 791,634"/>
<polygon points="797,625 793,625 790,629.5 793,634 797,634"/>
<polygon class="pol" points="848,625 803,625 799,629.5 803,634 848,634"/>
<polygon points="164,638 170,642.5 164,647"/><polygon points="170,638 177,642.5 170,647"/>
<polygon class="tan" points="178,638 206,638 210,642.5 206,647 178,647"/>
<polygon points="211,638 219,638 223,642.5 219,647 211,647"/>
<polygon points="275,638 280,642.5 275,647"/><polygon points="280,638 285,642.5 280,647"/>
<polygon class="fic" points="284,638 288,642.5 284,647"/>
<polygon points="290,638 295,642.5 290,647"/><polygon points="295,638 300,638 304,642.5 300,647 295,647"/><polygon points="304,638 309,642.5 304,647"/>
<polygon class="vsg" points="358,638 362,638 366,642.5 362,647 358,647"/>
<polygon points="367,638 374,638 378,642.5 374,647 367,647"/>
<polygon class="pep" points="379,638 403,638 407,642.5 403,647 379,647"/>
<polygon class="hpg" points="409,638 413,638 417,642.5 413,647 409,647"/>
<polygon class="vsg" points="421,638 437,638 441,642.5 437,647 421,647"/>
<polygon points="442,638 447,638 451,642.5 447,647 442,647"/>
<polygon points="452,638 457,638 461,642.5 457,647 452,647"/>
<polygon points="462,638 467,638 471,642.5 467,647 462,647"/>
<polygon points="472,638 478,638 482,642.5 478,647 472,647"/>
<polygon points="484,638 526,638 530,642.5 526,647 484,647"/>
<polygon points="532,638 683,638 687,642.5 683,647 532,647"/>
<polygon points="688,638 693,638 697,642.5 693,647 688,647"/>
<polygon points="698,638 703,638 707,642.5 703,647 698,647"/>
<polygon points="708,638 713,638 717,642.5 713,647 708,647"/>
<polygon points="718,638 726,638 730,642.5 726,647 718,647"/>
<polygon points="857,638 862,642.5 857,647"/><polygon points="862,638 867,642.5 862,647"/>
<polygon class="rec" points="868,638 881,638 885,642.5 881,647 868,647"/>
<polygon class="ssd" points="887,638 893,638 897,642.5 893,647 887,647"/>
<polygon points="899,638 905,642.5 899,647"/><polygon points="905,638 911,642.5 905,647"/>
<polygon class="chp" points="912,638 924,638 928,642.5 924,647 912,647"/>
<polygon points="929,638 936,642.5 929,647"/><polygon points="936,638 943,642.5 936,647"/><polygon points="943,638 948,642.5 943,647"/><polygon points="948,638 953,642.5 948,647"/><polygon points="953,638 960,642.5 953,647"/><polygon points="961,638 968,642.5 961,647"/>
<polygon class="hel" points="970,638 1001,638 1005,642.5 1001,647 970,647"/>
<polygon points="1007,638 1011,642.5 1007,647"/>
<polygon class="cwh" points="1012,638 1024,638 1028,642.5 1024,647 1012,647"/>
<polygon points="1030,638 1037,638 1041,642.5 1037,647 1030,647"/>
<polygon points="1042,638 1058,638 1062,642.5 1058,647 1042,647"/>
<polygon points="1063,638 1068,638 1072,642.5 1068,647 1063,647"/>
<polygon points="1073,638 1077,638 1081,642.5 1077,647 1073,647"/>
<polygon class="hel" points="1083,638 1110,638 1114,642.5 1110,647 1083,647"/>
<polygon points="1116,638 1124,642.5 1116,647"/>
<polygon points="1143,638 1154,638 1158,642.5 1154,647 1143,647"/>
<polygon points="1160,638 1168,638 1172,642.5 1168,647 1160,647"/>
<polygon points="1174,638 1180,642.5 1174,647"/>
<polygon points="1190,638 1196,642.5 1190,647"/>
<text class="m" x="236" y="655">* *</text>
<text class="m" x="283" y="655">*</text><text class="m" x="283" y="665">ʌ</text>
<path d="M288,638 V668" stroke="#333" stroke-width="1"/>
<text class="m" x="301" y="655">* *</text><text class="m" x="301" y="665">ʌ ʌ</text>
<text class="t" x="281" y="681">tD</text>
<text class="m" x="429" y="653">*</text>
<text class="m" x="717" y="665">ʌ ʌ</text>
<text class="m" x="739" y="655">*</text><text class="m" x="739" y="665">ʌ</text>
<text class="m" x="772" y="655">*</text>
<text class="m" x="794" y="655">*</text><text class="m" x="794" y="665">ʌ</text>
<text class="m" x="901" y="665">ʌ</text><text class="m" x="941" y="655">*</text>
<text class="m" x="1022" y="655">*</text><text class="m" x="1022" y="665">ʌ</text>
<text class="m" x="1076" y="655">*</text><text class="m" x="1147" y="655">*</text>
</g>

<!-- connectors: dashed guides -->
<g id="connectors">
<path class="dl" d="M217,43 V63 M243,43 V63 M315,43 V63 M333,43 V63 M366,43 V63 M382,43 V63 M447,43 V63 M541,43 V63 M737,43 V63 M758,43 V63"/>
<path class="dl" d="M206,127 V150 M232,127 V150 M316,127 V150 M331,127 V150 M367,127 V150 M383,127 V150 M450,127 V150 M571,127 V150 M677,127 V150 M692,127 V150 M759,127 V150 M781,127 V150"/>
<path class="dl" d="M211,212 V236 M238,212 V236 M326,212 V236 M342,212 V236 M376,212 V236 M391,212 V236 M456,212 V236 M583,212 V236 M689,212 V236 M703,212 V236 M773,212 V236 M793,212 V236"/>
<path class="dl" d="M401,390 V412 M406,390 V412 M409,390 V412 M432,390 V412"/>
<path class="dl" d="M412,474 V497 M418,474 V497 M422,474 V497 M445,474 V497"/>
<path class="dl" d="M418,562 V580 M424,562 V580 M427,562 V580 M445,562 V580 M912,562 V580 M927,562 V580"/>
<path class="dl" d="M410,649 V662 M417,649 V662 M421,649 V662 M439,649 V662 M912,649 V662 M926,649 V662"/>
</g>

<g id="domain-boxes">
<rect class="bx" x="217" y="65" width="28" height="10"/><path class="rl" d="M223,65 V75 M233,65 V75"/>
<rect class="bx" x="316" y="65" width="18" height="10"/><rect class="rf" x="317" y="66" width="4" height="8"/><rect class="rf" x="324" y="66" width="3" height="8"/><rect class="rf" x="329" y="66" width="4" height="8"/>
<rect class="bx" x="366" y="65" width="16" height="10"/>
<rect class="bx" x="447" y="65" width="94" height="10"/><path class="rl" d="M460,65 V75 M487,65 V75 M527,65 V75 M534,65 V75"/>
<rect class="bx" x="737" y="65" width="21" height="10"/><path class="rl" d="M747,65 V75"/>

<rect class="bx" x="206" y="152" width="27" height="10"/><path class="rl" d="M214,152 V162 M223,152 V162"/>
<rect class="bx" x="316" y="152" width="16" height="10"/><rect class="rf" x="317" y="153" width="3" height="8"/><rect class="rf" x="323" y="153" width="3" height="8"/><rect class="rf" x="328" y="153" width="3" height="8"/>
<rect class="bx" x="367" y="152" width="16" height="10"/>
<rect class="bx" x="450" y="152" width="122" height="10"/><path class="rl" d="M467,152 V162 M496,152 V162 M553,152 V162 M561,152 V162"/>
<rect class="bx" x="677" y="152" width="16" height="10"/><path class="rl" d="M682,152 V162" style="stroke:#b06060"/>
<rect class="bx" x="759" y="152" width="23" height="10"/><path class="rl" d="M770,152 V162"/>

<rect class="bx" x="211" y="238" width="28" height="10"/><path class="rl" d="M221,238 V248 M230,238 V248"/>
<rect class="bx" x="326" y="238" width="17" height="10"/><rect class="rf" x="327" y="239" width="3" height="8"/><rect class="rf" x="333" y="239" width="4" height="8"/><rect class="rf" x="339" y="239" width="3" height="8"/>
<rect class="bx" x="376" y="238" width="16" height="10"/>
<rect class="bx" x="456" y="238" width="128" height="10"/><path class="rl" d="M473,238 V248 M504,238 V248 M564,238 V248 M572,238 V248"/>
<rect class="bx" x="688" y="238" width="16" height="10"/><path class="rl" d="M693,238 V248" style="stroke:#b06060"/>
<rect class="bx" x="773" y="238" width="22" height="10"/><path class="rl" d="M784,238 V248"/>

<rect class="bx" x="401" y="413" width="31" height="10"/><rect class="rf" x="402" y="414" width="3" height="8"/><rect class="rf" x="410" y="414" width="6" height="8"/><rect class="rf" x="421" y="414" width="3" height="8"/><rect class="rf" x="428" y="414" width="3" height="8"/>
<rect class="bx" x="412" y="497" width="33" height="11"/><rect class="rf" x="413" y="498" width="3" height="9"/><rect class="rf" x="421" y="498" width="7" height="9"/><rect class="rf" x="433" y="498" width="3" height="9"/><rect class="rf" x="440" y="498" width="3" height="9"/>
<rect class="bx" x="417" y="580" width="30" height="11"/><rect class="rf" x="418" y="581" width="4" height="9"/><rect class="rf" x="426" y="581" width="4" height="9"/><rect class="rf" x="434" y="581" width="3" height="9"/><rect class="rf" x="441" y="581" width="3" height="9"/>
<rect class="bx" x="912" y="580" width="16" height="11"/><rect class="rf" x="913" y="581" width="3" height="9"/><rect class="rf" x="919" y="581" width="3" height="9"/><rect class="rf" x="924" y="581" width="3" height="9"/>
<rect class="bx" x="410" y="662" width="30" height="11"/><rect class="rf" x="411" y="663" width="4" height="9"/><rect class="rf" x="419" y="663" width="4" height="9"/><rect class="rf" x="427" y="663" width="3" height="9"/><rect class="rf" x="434" y="663" width="3" height="9"/>
<rect class="bx" x="911" y="662" width="16" height="11"/><rect class="rf" x="912" y="663" width="3" height="9"/><rect class="rf" x="918" y="663" width="3" height="9"/><rect class="rf" x="923" y="663" width="3" height="9"/>
</g>

<!-- function legend -->
<g id="legend-functions">
<rect x="1045" y="24" width="217" height="164" fill="#fff" stroke="#555" stroke-width="1"/>
<path class="pk" d="M1078,37 H1111"/><text class="lt" x="1118" y="41">Packaging</text>
<rect x="1078" y="58" width="33" height="4" fill="url(#hatch)"/><text class="lt" x="1118" y="64">Morphogenesis</text>
<path class="pk" d="M1078,83.5 H1111 M1078,86.5 H1111"/><text class="lt" x="1118" y="89">Recombinaton</text>
<path class="rp" d="M1078,111 H1111"/><text class="lt" x="1118" y="115">Replication</text>
<path class="me" d="M1078,137 H1113"/><text class="lt" x="1118" y="141">Methylation</text>
<path class="ig" d="M1078,162 H1112"/><text class="lt" x="1118" y="166">Integration</text>
</g>

<!-- gene category legend -->
<g id="legend-genes">
<rect x="386" y="697" width="900" height="110" fill="#fff" stroke="#888" stroke-width="1.5"/>
<polygon class="met" points="390,702 401,702 405,706 401,710 390,710"/><text class="lg" x="412" y="710">Methylase</text>
<polygon class="int" points="390,720 401,720 405,724 401,728 390,728"/><text class="lg" x="412" y="728">Integrase</text>
<polygon class="hth" points="390,738 401,738 405,742 401,746 390,746"/><text class="lg" x="412" y="746">HTH domain/transcription regulators</text>
<polygon class="ssd" points="390,755 401,755 405,759 401,763 390,763"/><text class="lg" x="412" y="763">ssDNA unión protien</text>
<polygon class="pep" points="390,773 401,773 405,777 401,781 390,781"/><text class="lg" x="412" y="781">Peptidase</text>
<polygon class="cwh" points="390,791 401,791 405,795 401,799 390,799"/><text class="lg" x="412" y="799">Cell Wall hydrolases</text>
<polygon class="yel" points="636,702 647,702 651,706 647,710 636,710"/><text class="lg" x="657" y="710">Nuclease</text>
<polygon class="hnh" points="636,720 647,720 651,724 647,728 636,728"/><text class="lg" x="657" y="728">Endonuclease  HNH motif</text>
<polygon class="hel" points="636,738 647,738 651,742 647,746 636,746"/><text class="lg" x="657" y="746">N-terminal domain in Helicases/Nucleases</text>
<polygon class="pri" points="636,755 647,755 651,759 647,763 636,763"/><text class="lg" x="657" y="763">Primase</text>
<polygon class="pol" points="636,773 647,773 651,777 647,781 636,781"/><text class="lg" x="657" y="781">DNA polimerase III</text>
<polygon class="vsg" points="636,791 647,791 651,795 647,799 636,799"/><text class="lg" x="657" y="799">Viral structural proein</text>
<polygon class="tan" points="907,702 918,702 922,706 918,710 907,710"/><text class="lg" x="928" y="710">Terminases</text>
<polygon class="rec" points="907,720 918,720 922,724 918,728 907,728"/><text class="lg" x="928" y="728">CHP viral recombinase</text>
<polygon class="blu" points="907,738 918,738 922,742 918,746 907,746"/><text class="lg" x="928" y="746">CHP in viruses</text>
<polygon class="prot" points="907,755 918,755 922,759 918,763 907,763"/><text class="lg" x="928" y="763">CHP in Proteobacteria</text>
<polygon class="fic" points="907,773 918,773 922,777 918,781 907,781"/><text class="lg" x="928" y="781">CHP Fic/DOC family</text>
<polygon class="chp" points="907,791 918,791 922,795 918,799 907,799"/><text class="lg" x="928" y="799">CHP</text>
<polygon class="hpg" points="1080,702 1091,702 1095,706 1091,710 1080,710"/><text class="lg" x="1101" y="710">HP reannotated as structural</text>
<text class="m" x="1085" y="728">ʌ</text><text class="lg" x="1101" y="728">Transmembrane domain</text>
<text class="m" x="1085" y="748">*</text><text class="lg" x="1101" y="746">Signal peptide</text>
<text class="lg" x="1078" y="763">tK</text><text class="lg" x="1101" y="763">tRNA Lysine</text>
<text class="lg" x="1078" y="781">tD</text><text class="lg" x="1101" y="781">tRNA Aspartic Acid</text>
</g>
</svg>
